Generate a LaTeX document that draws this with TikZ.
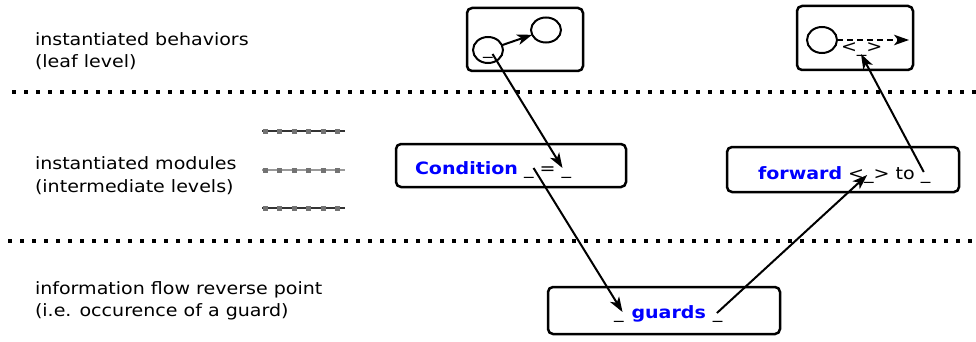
\documentclass[tikz,border=0pt]{standalone}
\usepackage{fontspec}
\setmainfont[FakeStretch=1.12]{DejaVu Sans}
\usetikzlibrary{arrows.meta,shapes.geometric}

\begin{document}
\begin{tikzpicture}[x=1pt,y=-1pt,
  every node/.style={font=\fontsize{17}{22}\selectfont, inner sep=0pt, outer sep=0pt},
  txt/.style={anchor=base west},
  glyph/.style={anchor=base west, text height=13pt, text depth=4pt},
  kw/.style={glyph, text=blue, font=\fontsize{17}{22}\selectfont\bfseries},
  box/.style={draw, line width=2.5pt, rounded corners=5pt},
  state/.style={draw, ellipse, line width=2pt, minimum width=30pt, minimum height=26pt},
  flow/.style={line width=2pt, -{Stealth[length=15pt,width=10.5pt,inset=4pt]}},
  level/.style={line width=4pt, dash pattern=on 4pt off 8pt},
  stub/.style={line width=1.5pt},
  stubdots/.style={line width=5pt, dash pattern=on 5pt off 9.5pt},
]
\useasboundingbox (0,0) rectangle (976,342);

% level captions
\node[txt] (cap1a) at (35,46) {instantiated behaviors};
\node[txt] (cap1b) at (35,68) {(leaf level)};
\node[txt] (cap2a) at (35,169) {instantiated modules};
\node[txt] (cap2b) at (35,192) {(intermediate levels)};
\node[txt] (cap3a) at (35,294) {information flow reverse point};
\node[txt] (cap3b) at (35,316) {(i.e. occurence of a guard)};

% level separators
\draw[level] (12,92) -- (976,92);
\draw[level] (8,241) -- (976,241);

% elided intermediate levels
\foreach \y/\l/\d in {131/black!80/black!55, 170/black!40/black!55, 208/black!80/black!55} {
  \draw[stub, \l] (262,\y) -- (345,\y);
  \draw[stubdots, \d] (262.5,\y) -- (340,\y);
}

% leaf behaviors
\node[box, minimum width=116pt, minimum height=63pt] (beh1) at (525,39.5) {};
\node[state] (s1) at (488,50) {};
\node[state, minimum height=25pt] (s2) at (546,30) {};
\node[glyph] (b1u) at (483,55) {\_};
\draw[flow] (s1) -- (s2);

\node[box, minimum width=116pt, minimum height=64pt] (beh2) at (855,38) {};
\node[state] (s3) at (822,40) {};
\coordinate (s3end) at (909,40);
\draw[flow, dash pattern=on 6pt off 4pt] (s3) -- (s3end);
\node[glyph] (tlt) at (841,53) {<};
\node[glyph] (tu) at (tlt.base east) {\_};
\node[glyph] (tgt) at (tu.base east) {>};

% intermediate modules
\node[box, minimum width=230pt, minimum height=43pt] (cond) at (511,165.5) {};
\node[kw] (condkw) at (415,174) {Condition};
\node[glyph, xshift=6pt] (ca) at (condkw.base east) {\_};
\node[glyph, xshift=6pt] (ceq) at (ca.base east) {=};
\node[glyph, xshift=6pt] (cb) at (ceq.base east) {\_};

\node[box, minimum width=232pt, minimum height=45pt] (fwd) at (843,169.5) {};
\node[kw] (fwdkw) at (758,179) {forward};
\node[glyph, xshift=6pt] (flt) at (fwdkw.base east) {<};
\node[glyph] (fu1) at (flt.base east) {\_};
\node[glyph] (fgt) at (fu1.base east) {>};
\node[glyph, xshift=6pt] (fto) at (fgt.base east) {to};
\node[glyph, xshift=6pt] (fu2) at (fto.base east) {\_};

% guard
\node[box, minimum width=232pt, minimum height=47pt] (grd) at (664,310.5) {};
\node[glyph] (gu1) at (614,318) {\_};
\node[kw, xshift=8pt] (grdkw) at (gu1.base east) {guards};
\node[glyph, xshift=7pt] (gu2) at (grdkw.base east) {\_};

% information flow
\draw[flow] ([yshift=1pt]b1u.base east) -- ([xshift=1pt,yshift=6pt]cb.base west);
\draw[flow] ([yshift=6pt]ca.base east) -- ([xshift=-1pt,yshift=6pt]gu1.base east);
\draw[flow] ([xshift=4pt,yshift=5pt]gu2.base west) -- ([xshift=3pt,yshift=4pt]fu1.base west);
\draw[flow] ([xshift=3pt,yshift=7pt]fu2.base west) -- ([xshift=4pt,yshift=-1pt]tu.base west);
\end{tikzpicture}
\end{document}
